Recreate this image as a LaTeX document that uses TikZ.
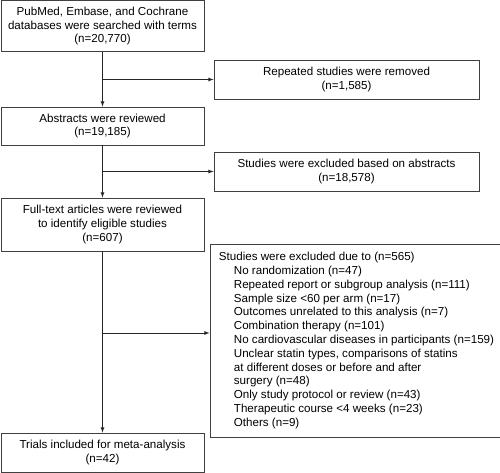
\documentclass[tikz,border=0pt]{standalone}
\usepackage{fontspec}
\setmainfont{Liberation Sans}
\usetikzlibrary{positioning}

\begin{document}
\begin{tikzpicture}[x=1pt,y=-1pt,>=latex,line width=0.8pt,
   stage/.style={draw=black!75,minimum width=203pt,inner sep=0pt,align=center,
                 font=\fontsize{11.6}{13.8}\selectfont},
   excl/.style={stage,minimum width=265pt},
   reasons/.style={draw=black!75,minimum width=285pt,inner xsep=9pt,inner ysep=0pt,
                   minimum height=193pt,align=left,font=\fontsize{11.6}{13.8}\selectfont}]
   \useasboundingbox (0,0) rectangle (500,473);
   \node[stage,minimum height=51pt] (s_0) at (102.5,26) {PubMed, Embase, and Cochrane\\databases were searched with terms\\(n=20,770)};
   \node[excl,minimum height=39pt] (x_0) at (346.5,79.5) {Repeated studies were removed\\(n=1,585)};
   \node[stage,minimum height=38pt] (s_1) at (102.5,126) {Abstracts were reviewed\\(n=19,185)};
   \node[excl,minimum height=39pt] (x_1) at (346.5,171.5) {Studies were excluded based on abstracts\\(n=18,578)};
   \node[stage,minimum height=53pt] (s_2) at (102.5,224.5) {Full-text articles were reviewed\\to identify eligible studies\\(n=607)};
   \node[reasons] (x_2) at (356.5,340.5) {Studies were excluded due to (n=565)\\
      \hspace*{15pt}No randomization (n=47)\\
      \hspace*{15pt}Repeated report or subgroup analysis (n=111)\\
      \hspace*{15pt}Sample size <60 per arm (n=17)\\
      \hspace*{15pt}Outcomes unrelated to this analysis (n=7)\\
      \hspace*{15pt}Combination therapy (n=101)\\
      \hspace*{15pt}No cardiovascular diseases in participants (n=159)\\
      \hspace*{15pt}Unclear statin types, comparisons of statins\\
      \hspace*{15pt}at different doses or before and after\\
      \hspace*{15pt}surgery (n=48)\\
      \hspace*{15pt}Only study protocol or review (n=43)\\
      \hspace*{15pt}Therapeutic course <4 weeks (n=23)\\
      \hspace*{15pt}Others (n=9)};
   \node[stage,minimum height=39pt] (s_3) at (102.5,452.5) {Trials included for meta-analysis\\(n=42)};
   % branch points on the main line
   \coordinate (b_0) at (s_0.south |- x_0.west);
   \coordinate (b_1) at (s_1.south |- x_1.west);
   \coordinate (b_2) at (103,333);
   \draw[draw=black!85,->] (s_0) -- (s_1);
   \draw[draw=black!85,->] (s_1) -- (s_2);
   \draw[draw=black!85,->] (s_2) -- (s_3);
   \draw[draw=black!85,->] (b_0) -- (x_0);
   \draw[draw=black!85,->] (b_1) -- (x_1);
   \draw[draw=black!85,->] (b_2) -- (b_2 -| x_2.west);
\end{tikzpicture}
\end{document}
